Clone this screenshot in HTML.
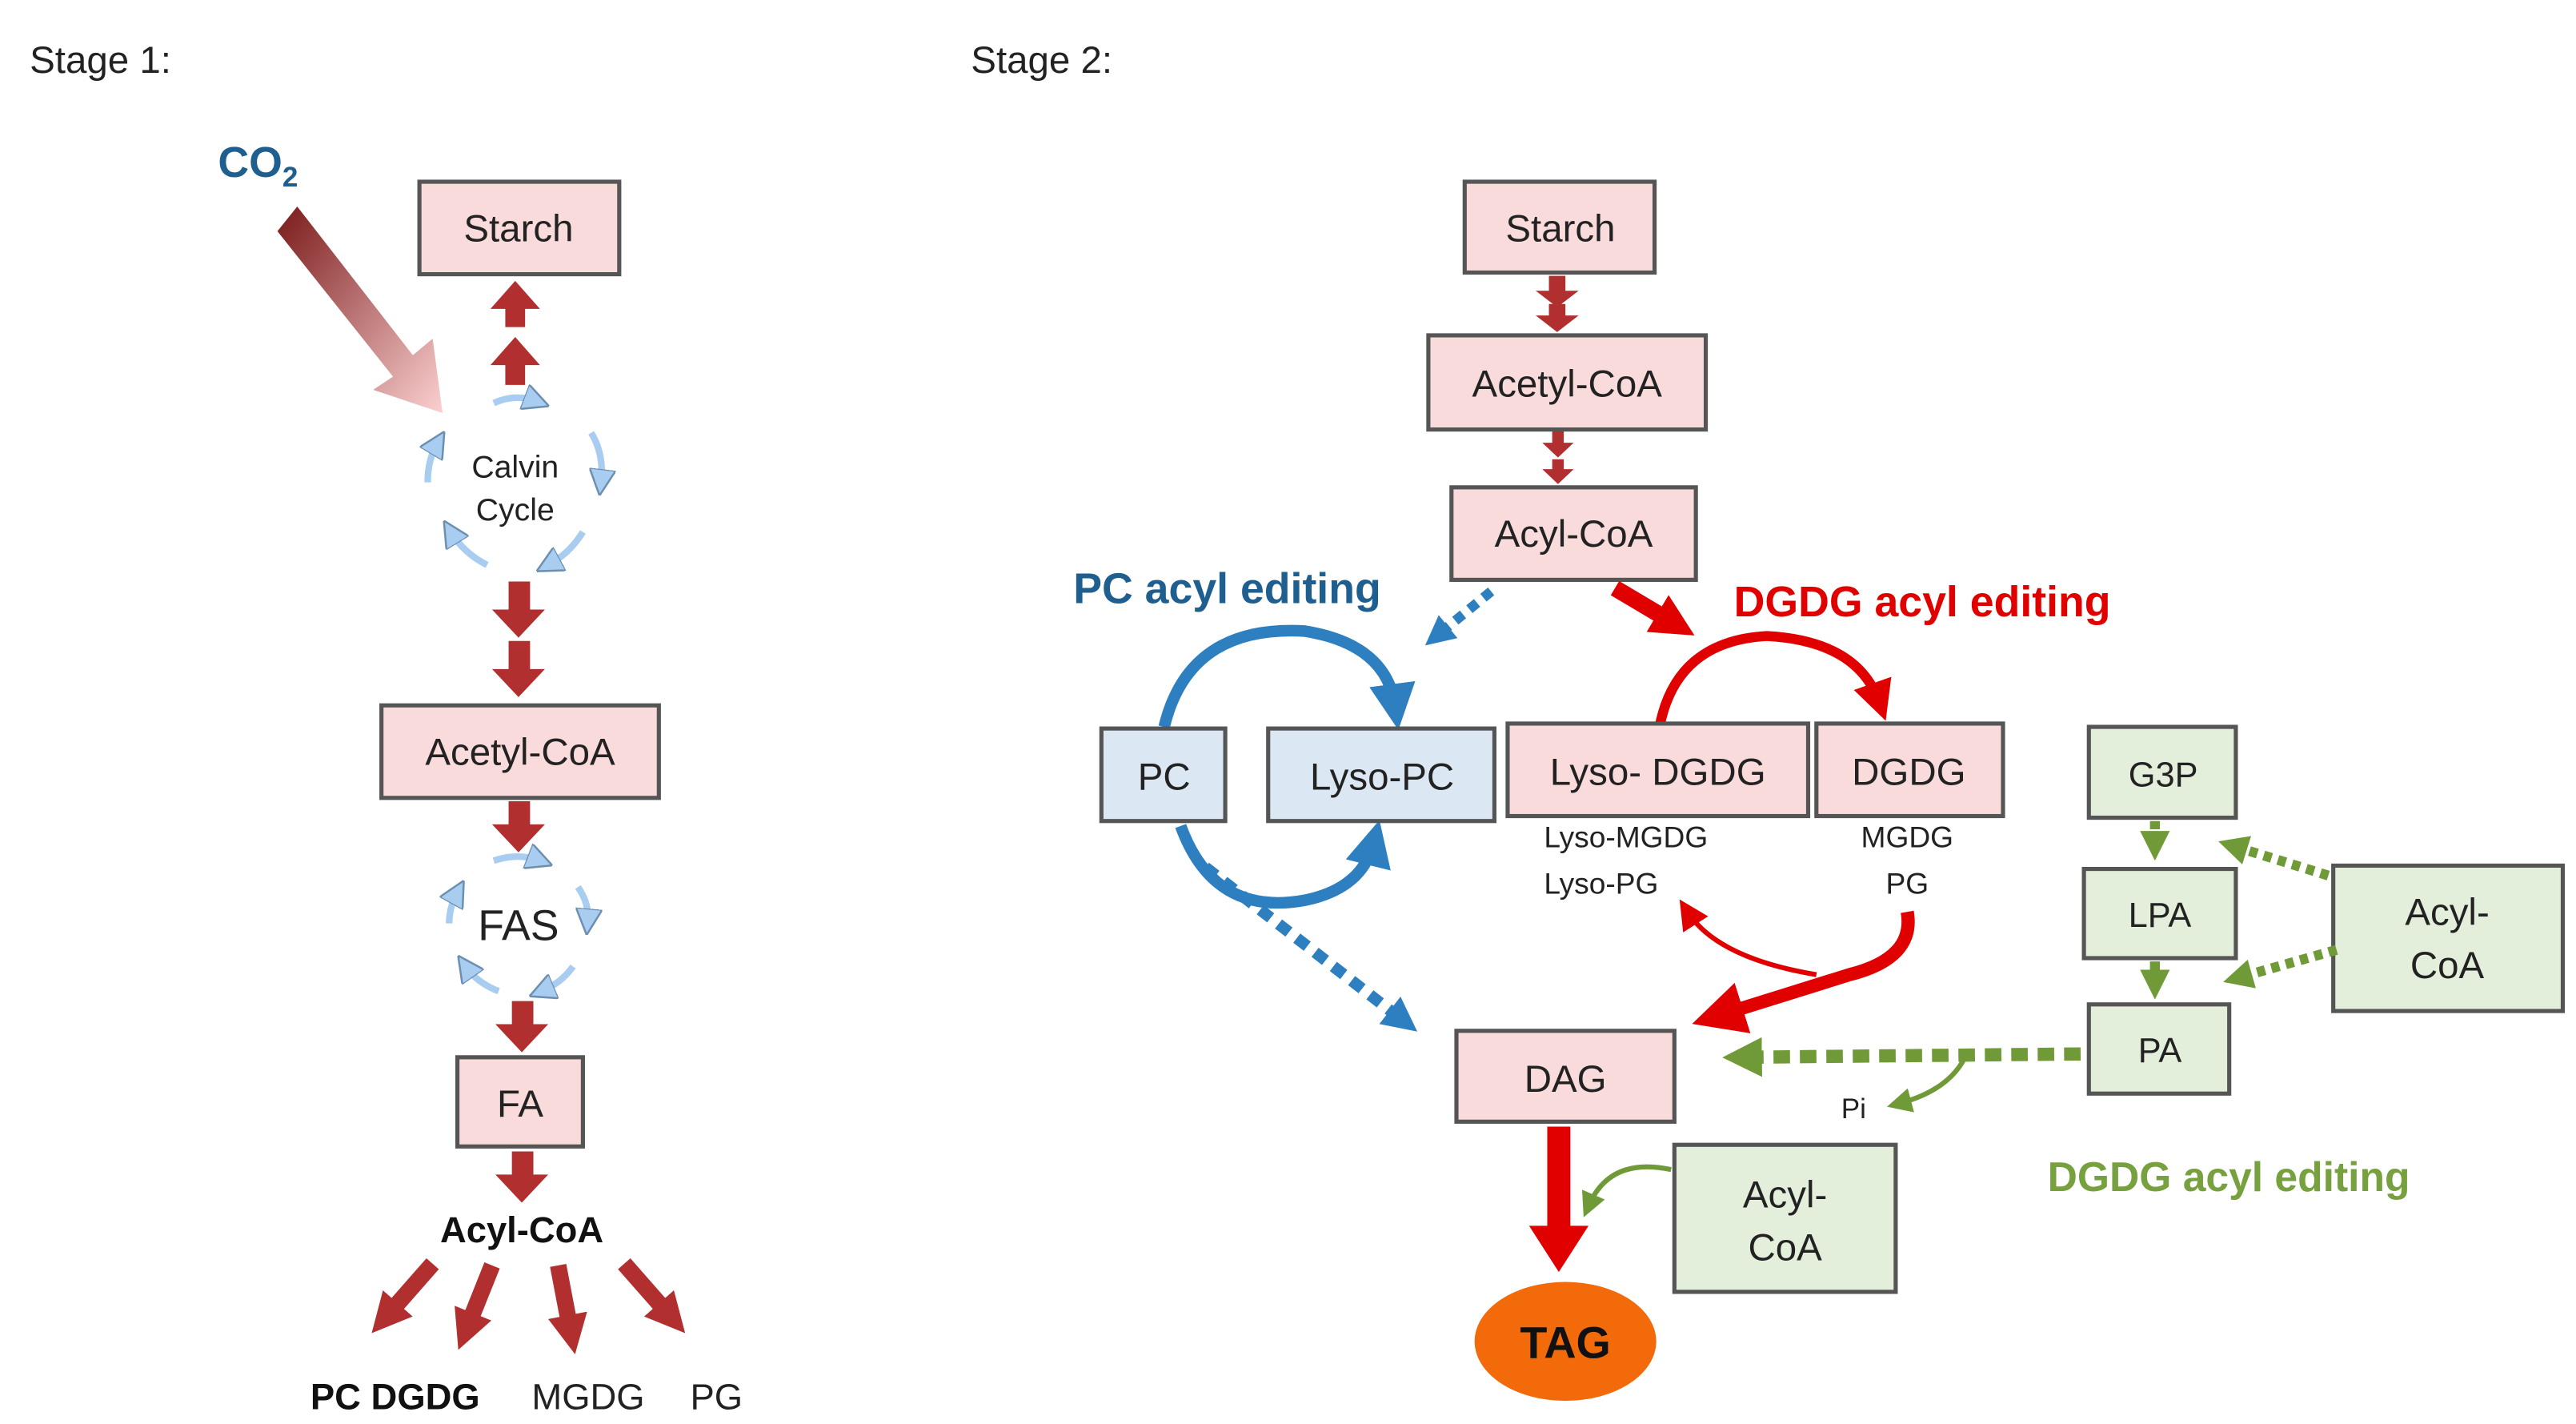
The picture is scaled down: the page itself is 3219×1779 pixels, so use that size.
<!DOCTYPE html>
<html><head><meta charset="utf-8"><style>
html,body{margin:0;padding:0;background:#fff;}
svg{display:block;}
text{font-family:"Liberation Sans",sans-serif;}
</style></head><body>
<svg width="3219" height="1779" viewBox="0 0 1560 862" preserveAspectRatio="none" xmlns="http://www.w3.org/2000/svg">
<defs>
<linearGradient id="co2" x1="0" y1="0" x2="1" y2="1">
<stop offset="0" stop-color="#7a1a1a"/><stop offset="1" stop-color="#fbd0d0"/></linearGradient>
<marker id="rh" markerWidth="4" markerHeight="4" refX="2" refY="2" orient="auto" markerUnits="strokeWidth"><path d="M0,0 L4,2 L0,4Z" fill="#e00000"/></marker>
<marker id="rh2" markerWidth="6" markerHeight="6" refX="3" refY="3" orient="auto" markerUnits="strokeWidth"><path d="M0,0 L6,3 L0,6Z" fill="#e00000"/></marker>
<marker id="bh" markerWidth="3" markerHeight="3" refX="1.5" refY="1.5" orient="auto" markerUnits="strokeWidth"><path d="M0,0 L3,1.5 L0,3Z" fill="#2e7fc0"/></marker>
<marker id="bh2" markerWidth="4" markerHeight="4" refX="2" refY="2" orient="auto" markerUnits="strokeWidth"><path d="M0,0 L4,2 L0,4Z" fill="#2e7fc0"/></marker>
<marker id="gh" markerWidth="3" markerHeight="3" refX="1.5" refY="1.5" orient="auto" markerUnits="strokeWidth"><path d="M0,0 L3,1.5 L0,3Z" fill="#6f9a37"/></marker>
<marker id="gh2" markerWidth="5" markerHeight="5" refX="2.5" refY="2.5" orient="auto" markerUnits="strokeWidth"><path d="M0,0 L5,2.5 L0,5Z" fill="#6f9a37"/></marker>
<marker id="lb" markerWidth="4" markerHeight="4" refX="2" refY="2" orient="auto" markerUnits="strokeWidth"><path d="M0,0 L4,2 L0,4Z" fill="#a9cdf0" stroke="#6c8fb0" stroke-width="0.3"/></marker>
<marker id="dr" markerWidth="2.4" markerHeight="2.4" refX="1.2" refY="1.2" orient="auto" markerUnits="strokeWidth"><path d="M0,0 L2.4,1.2 L0,2.4Z" fill="#b22f2f"/></marker>
<marker id="dr2" markerWidth="2.6" markerHeight="2.6" refX="1.3" refY="1.3" orient="auto" markerUnits="strokeWidth"><path d="M0,0 L2.6,1.3 L0,2.6Z" fill="#e00000"/></marker>
</defs>
<text x="18" y="44" font-size="23" fill="#222">Stage 1:</text>
<text x="588" y="44" font-size="23" fill="#222">Stage 2:</text>

<!-- Stage 1 -->
<text x="132" y="107" font-size="26" font-weight="bold" fill="#1f5f8f">CO<tspan font-size="17" dy="6">2</tspan></text>
<path d="M168,140 L180,125 L250,215 L262,205 L268,250 L226,236 L238,228 Z" fill="url(#co2)"/>
<rect x="254" y="110" width="121" height="56" fill="#f9dbdb" stroke="#555" stroke-width="2.5"/>
<text x="314" y="146" font-size="23" text-anchor="middle" fill="#222">Starch</text>
<path d="M306,198 L306,187 L297,187 L312,170 L327,187 L318,187 L318,198Z" fill="#b22f2f"/>
<path d="M306,233 L306,221 L297,221 L312,204 L327,221 L318,221 L318,233Z" fill="#b22f2f"/>
<g fill="none" stroke="#a9cdf0" stroke-width="4" marker-end="url(#lb)">
<path d="M299,244 Q312,238 325,243"/>
<path d="M358,262 Q366,275 364,292"/>
<path d="M353,322 Q345,335 332,342"/>
<path d="M295,342 Q281,335 273,322"/>
<path d="M259,292 Q259,278 265,268"/>
<path d="M299,521 Q314,516 327,521"/>
<path d="M350,537 Q357,547 356,558"/>
<path d="M347,585 Q340,595 328,600"/>
<path d="M302,600 Q289,595 282,585"/>
<path d="M272,559 Q272,549 277,540"/>
</g>
<text x="312" y="289" font-size="19" text-anchor="middle" fill="#222">Calvin</text>
<text x="312" y="315" font-size="19" text-anchor="middle" fill="#222">Cycle</text>
<g fill="#b22f2f">
<path d="M308,352 L321,352 L321,369 L330,369 L314,386 L298,369 L308,369Z"/>
<path d="M308,388 L321,388 L321,405 L330,405 L314,422 L298,405 L308,405Z"/>
<path d="M308,485 L321,485 L321,499 L330,499 L314,516 L298,499 L308,499Z"/>
<path d="M310,606 L323,606 L323,620 L332,620 L316,637 L300,620 L310,620Z"/>
<path d="M310,697 L323,697 L323,711 L332,711 L316,728 L300,711 L310,711Z"/>
</g>
<rect x="231" y="427" width="168" height="56" fill="#f9dbdb" stroke="#555" stroke-width="2.5"/>
<text x="315" y="463" font-size="23" text-anchor="middle" fill="#222">Acetyl-CoA</text>
<text x="314" y="569" font-size="26" text-anchor="middle" fill="#222">FAS</text>
<rect x="277" y="640" width="76" height="54" fill="#f9dbdb" stroke="#555" stroke-width="2.5"/>
<text x="315" y="676" font-size="23" text-anchor="middle" fill="#222">FA</text>
<text x="316" y="752" font-size="22" font-weight="bold" text-anchor="middle" fill="#111">Acyl-CoA</text>
<g stroke="#b22f2f" stroke-width="10" fill="none" marker-end="url(#dr)">
<path d="M262,765 L233,798"/>
<path d="M298,766 L282,806"/>
<path d="M338,766 L346,808"/>
<path d="M378,765 L407,798"/>
</g>
<text x="188" y="853" font-size="22" font-weight="bold" fill="#111">PC DGDG</text>
<text x="322" y="853" font-size="22" fill="#222">MGDG</text>
<text x="418" y="853" font-size="22" fill="#222">PG</text>

<!-- Stage 2 -->
<rect x="887" y="110" width="115" height="55" fill="#f9dbdb" stroke="#555" stroke-width="2.5"/>
<text x="945" y="146" font-size="23" text-anchor="middle" fill="#222">Starch</text>
<g fill="#b22f2f">
<path d="M938,167 L948,167 L948,176 L956,176 L943,186 L930,176 L938,176Z"/>
<path d="M938,184 L948,184 L948,191 L956,191 L943,201 L930,191 L938,191Z"/>
<path d="M940,261 L947,261 L947,268 L953,268 L943.5,277 L934,268 L940,268Z"/>
<path d="M940,278 L947,278 L947,284 L953,284 L943.5,293 L934,284 L940,284Z"/>
</g>
<rect x="865" y="203" width="168" height="57" fill="#f9dbdb" stroke="#555" stroke-width="2.5"/>
<text x="949" y="240" font-size="23" text-anchor="middle" fill="#222">Acetyl-CoA</text>
<rect x="879" y="295" width="148" height="56" fill="#f9dbdb" stroke="#555" stroke-width="2.5"/>
<text x="953" y="331" font-size="23" text-anchor="middle" fill="#222">Acyl-CoA</text>

<text x="650" y="365" font-size="26" font-weight="bold" fill="#1f5f8f">PC acyl editing</text>
<text x="1050" y="373" font-size="26" font-weight="bold" fill="#e00000">DGDG acyl editing</text>
<path d="M903,358 L870,385" stroke="#2e7fc0" stroke-width="6" stroke-dasharray="6,5" fill="none" marker-end="url(#bh)"/>
<path d="M978,356 L1015,378" stroke="#e00000" stroke-width="10" fill="none" marker-end="url(#dr2)"/>

<!-- blue cycle -->
<path d="M705,440 Q720,378 790,382 Q840,390 845,428" stroke="#2e7fc0" stroke-width="7" fill="none" marker-end="url(#bh2)"/>
<path d="M715,500 Q735,555 790,545 Q825,538 832,510" stroke="#2e7fc0" stroke-width="7" fill="none" marker-end="url(#bh2)"/>
<path d="M730,525 L850,618" stroke="#2e7fc0" stroke-width="7" stroke-dasharray="8,6" fill="none" marker-end="url(#bh)"/>
<rect x="667" y="441" width="75" height="56" fill="#dbe7f3" stroke="#555" stroke-width="2.5"/>
<text x="705" y="478" font-size="23" text-anchor="middle" fill="#222">PC</text>
<rect x="768" y="441" width="137" height="56" fill="#dbe7f3" stroke="#555" stroke-width="2.5"/>
<text x="837" y="478" font-size="23" text-anchor="middle" fill="#222">Lyso-PC</text>

<!-- red cycle -->
<path d="M1005,440 Q1015,388 1070,385 Q1125,388 1138,425" stroke="#e00000" stroke-width="6" fill="none" marker-end="url(#rh)"/>
<rect x="913" y="438" width="182" height="56" fill="#f9dbdb" stroke="#555" stroke-width="2.5"/>
<text x="1004" y="475" font-size="23" text-anchor="middle" fill="#222">Lyso- DGDG</text>
<rect x="1100" y="438" width="113" height="56" fill="#f9dbdb" stroke="#555" stroke-width="2.5"/>
<text x="1156" y="475" font-size="23" text-anchor="middle" fill="#222">DGDG</text>
<text x="935" y="513" font-size="18" fill="#222">Lyso-MGDG</text>
<text x="935" y="541" font-size="18" fill="#222">Lyso-PG</text>
<text x="1155" y="513" font-size="18" text-anchor="middle" fill="#222">MGDG</text>
<text x="1155" y="541" font-size="18" text-anchor="middle" fill="#222">PG</text>
<path d="M1100,590 Q1040,580 1022,552" stroke="#e00000" stroke-width="3" fill="none" marker-end="url(#rh2)"/>
<path d="M1155,552 Q1160,580 1120,590 L1040,615" stroke="#e00000" stroke-width="8" fill="none" marker-end="url(#rh)"/>

<rect x="882" y="624" width="132" height="55" fill="#f9dbdb" stroke="#555" stroke-width="2.5"/>
<text x="948" y="661" font-size="23" text-anchor="middle" fill="#222">DAG</text>

<!-- green -->
<path d="M1260,638 L1055,640" stroke="#6f9a37" stroke-width="8" stroke-dasharray="10,6" fill="none" marker-end="url(#gh)"/>
<path d="M1190,640 Q1180,660 1150,668" stroke="#6f9a37" stroke-width="3" fill="none" marker-end="url(#gh2)"/>
<text x="1115" y="677" font-size="17" fill="#222">Pi</text>
<rect x="1265" y="440" width="89" height="55" fill="#e4efdb" stroke="#555" stroke-width="2.5"/>
<text x="1310" y="476" font-size="21" text-anchor="middle" fill="#222">G3P</text>
<rect x="1262" y="526" width="92" height="54" fill="#e4efdb" stroke="#555" stroke-width="2.5"/>
<text x="1308" y="561" font-size="21" text-anchor="middle" fill="#222">LPA</text>
<rect x="1265" y="608" width="85" height="54" fill="#e4efdb" stroke="#555" stroke-width="2.5"/>
<text x="1308" y="643" font-size="21" text-anchor="middle" fill="#222">PA</text>
<rect x="1413" y="524" width="139" height="88" fill="#e4efdb" stroke="#555" stroke-width="2.5"/>
<text x="1482" y="560" font-size="23" text-anchor="middle" fill="#222">Acyl-</text>
<text x="1482" y="592" font-size="23" text-anchor="middle" fill="#222">CoA</text>
<g stroke="#6f9a37" stroke-width="6" stroke-dasharray="5,4" fill="none" marker-end="url(#gh)">
<path d="M1305,497 L1305,512"/>
<path d="M1305,582 L1305,596"/>
<path d="M1410,530 L1352,512"/>
<path d="M1415,575 L1355,592"/>
</g>
<text x="1240" y="721" font-size="25" font-weight="bold" fill="#77a03f">DGDG acyl editing</text>

<path d="M944,682 L944,745" stroke="#e00000" stroke-width="14" fill="none"/>
<path d="M926,742 L962,742 L944,770Z" fill="#e00000"/>
<rect x="1014" y="693" width="134" height="89" fill="#e4efdb" stroke="#555" stroke-width="2.5"/>
<text x="1081" y="731" font-size="23" text-anchor="middle" fill="#222">Acyl-</text>
<text x="1081" y="763" font-size="23" text-anchor="middle" fill="#222">CoA</text>
<path d="M1012,708 Q975,700 962,730" stroke="#6f9a37" stroke-width="3" fill="none" marker-end="url(#gh2)"/>
<ellipse cx="948" cy="812" rx="55" ry="36" fill="#f26a0a"/>
<text x="948" y="822" font-size="27" font-weight="bold" text-anchor="middle" fill="#111">TAG</text>
</svg>
</body></html>
